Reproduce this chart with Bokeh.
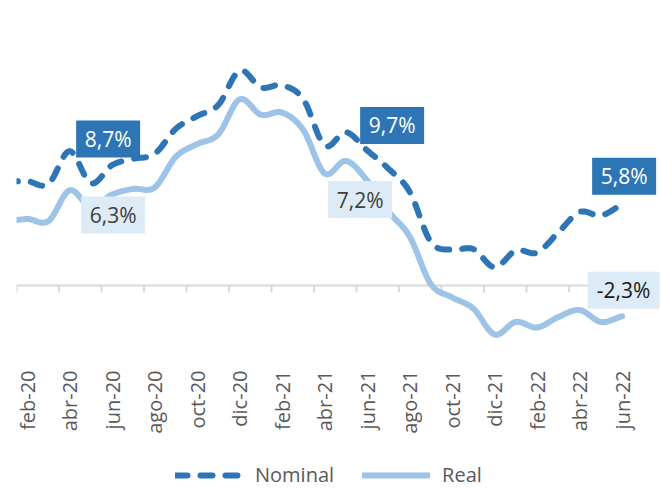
import numpy as np
from bokeh.plotting import figure
from bokeh.models import Range1d, Legend, LegendItem
from bokeh.embed import file_html
from bokeh.resources import INLINE
from bokeh.core.properties import value

# ---------------- data ----------------
months = ["ene-20", "feb-20", "mar-20", "abr-20", "may-20", "jun-20", "jul-20", "ago-20",
          "sep-20", "oct-20", "nov-20", "dic-20", "ene-21", "feb-21", "mar-21", "abr-21",
          "may-21", "jun-21", "jul-21", "ago-21", "sep-21", "oct-21", "nov-21", "dic-21",
          "ene-22", "feb-22", "mar-22", "abr-22", "may-22", "jun-22"]
nominal = [7.4, 7.45, 7.25, 9.6, 7.3, 8.6, 9.05, 9.4, 11.2, 12.1, 12.9, 15.35, 14.15, 14.3,
           13.3, 10.0, 10.95, 9.65, 8.35, 6.7, 3.1, 2.55, 2.6, 1.3, 2.5, 2.35, 3.8, 5.25, 5.0, 5.8]
real = [4.55, 4.75, 4.6, 6.8, 5.6, 6.5, 6.9, 7.0, 9.2, 10.1, 10.8, 13.3, 12.2, 12.35,
        11.1, 8.0, 8.9, 7.5, 5.3, 3.5, 0.1, -0.85, -1.65, -3.5, -2.6, -3.0, -2.25, -1.75, -2.6, -2.2]
tick_labels = months[1::2]          # feb-20, abr-20, ... jun-22
callout_months = ["jun-20", "jun-21", "jun-22"]
nominal_callouts = ["8,7%", "9,7%", "5,8%"]
real_callouts = ["6,3%", "7,2%", "-2,3%"]

# ---------------- style ----------------
C_NOM = "#2E75B6"
C_REAL = "#9DC3E6"
C_BOX_LIGHT = "#DDEBF7"
C_AXIS = "#D9D9D9"
C_TXT = "#595959"
FONT = "Open Sans"

W, H = 661, 489
LEFT, TOP = 16, 20
SX = 21.25   # px per month
SY = 14.0    # px per percentage point
ZERO_PX = 265          # distance of the zero line below the frame top
LABEL_PX = 350         # top end of the category labels below the frame top
FW, FH = W - LEFT, H - TOP
x0 = -0.5
y1 = ZERO_PX / SY
y0 = y1 - FH / SY

idx = np.arange(len(months)) - 1.0   # feb-20 -> 0
pos = {m: i for m, i in zip(months, idx)}


def smooth(xs, ys, n=16):
    xs = np.asarray(xs, float)
    ys = np.asarray(ys, float)
    px = np.concatenate([[2 * xs[0] - xs[1]], xs, [2 * xs[-1] - xs[-2]]])
    py = np.concatenate([[2 * ys[0] - ys[1]], ys, [2 * ys[-1] - ys[-2]]])
    outx, outy = [], []
    t = np.linspace(0, 1, n, endpoint=False)
    for i in range(1, len(px) - 2):
        for arr, out in ((px, outx), (py, outy)):
            p0, p1, p2, p3 = arr[i - 1], arr[i], arr[i + 1], arr[i + 2]
            out.extend(0.5 * ((2 * p1) + (-p0 + p2) * t + (2 * p0 - 5 * p1 + 4 * p2 - p3) * t ** 2
                              + (-p0 + 3 * p1 - 3 * p2 + p3) * t ** 3))
    outx.append(xs[-1])
    outy.append(ys[-1])
    return outx, outy


p = figure(width=W, height=H, frame_width=FW, frame_height=FH,
           x_range=Range1d(x0, x0 + FW / SX), y_range=Range1d(y0, y1),
           output_backend="svg", toolbar_location=None,
           min_border_left=LEFT, min_border_right=0, min_border_top=TOP, min_border_bottom=0)
p.outline_line_color = None
p.grid.visible = False
p.xaxis.visible = False
p.yaxis.visible = False
p.background_fill_color = "white"
p.border_fill_color = "white"

# category axis drawn at zero
end_x = idx[-1] + 0.5
p.segment(x0=[x0], y0=[0], x1=[end_x], y1=[0], line_color=C_AXIS, line_width=2)
tick_x = np.arange(x0, end_x, 2.0)
p.segment(x0=tick_x, y0=np.zeros_like(tick_x), x1=tick_x, y1=np.full_like(tick_x, -7 / SY),
          line_color=C_AXIS, line_width=2)

# category labels (every second month), rotated, top end aligned
lab_x = [pos[m] for m in tick_labels]
lab_y = [y1 - LABEL_PX / SY] * len(tick_labels)
p.text(x=lab_x, y=lab_y, text=tick_labels, angle=np.pi / 2, text_align="right",
       text_baseline="middle", text_font=value(FONT), text_font_size="20px", text_color=C_TXT)

sx_, sy_ = smooth(idx, real)
r_real = p.line(sx_, sy_, line_color=C_REAL, line_width=6, line_cap="round", line_join="round")
nx_, ny_ = smooth(idx, nominal)
r_nom = p.line(nx_, ny_, line_color=C_NOM, line_width=6, line_dash="12 13",
               line_cap="round", line_join="round")

# callouts: (dx, dy) in screen px from the data point, dy positive downward
nom_off = [(-4, -26), (25, -25), (2, -28)]
real_off = [(1, 20.5), (-7, 19), (1.5, -26)]
for vals, texts, offs, fill, tcol in ((nominal, nominal_callouts, nom_off, C_NOM, ["white"] * 3),
                                     (real, real_callouts, real_off, C_BOX_LIGHT,
                                      ["#404040", "#404040", "#1a1a1a"])):
    for m, t, (dx, dy), tc in zip(callout_months, texts, offs, tcol):
        i = months.index(m)
        cx = idx[i] + dx / SX
        cy = vals[i] - dy / SY
        w = 72 if t.startswith("-") else 64
        p.rect(x=[cx], y=[cy], width=w, height=37, width_units="screen", height_units="screen",
               fill_color=fill, line_color=None)
        p.text(x=[cx], y=[cy], text=[t], text_align="center", text_baseline="middle",
               text_font=value(FONT), text_font_size="21px", text_color=tc)

legend = Legend(items=[LegendItem(label="Nominal", renderers=[r_nom]),
                       LegendItem(label="Real", renderers=[r_real])],
                orientation="horizontal", location=(159, 1),
                glyph_width=68, glyph_height=20, label_standoff=12, spacing=28,
                label_text_font=FONT, label_text_font_size="20px", label_text_color=C_TXT,
                border_line_color=None, background_fill_alpha=0, padding=0, margin=0)
p.add_layout(legend, "center")

open("out.html", "w").write(file_html(p, INLINE))
